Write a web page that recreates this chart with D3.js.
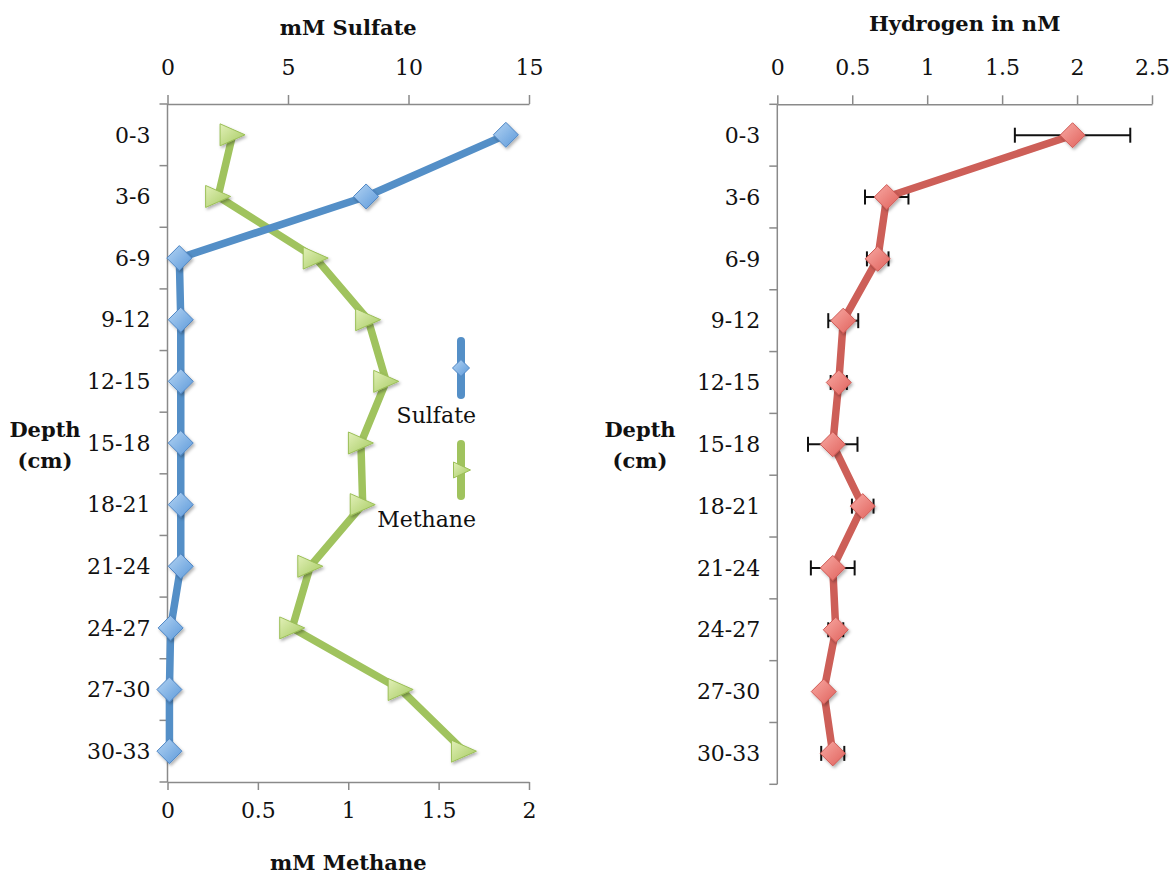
<!DOCTYPE html>
<html>
<head>
<meta charset="utf-8">
<script src="https://cdn.jsdelivr.net/npm/d3@7"></script>
<style>
  body { margin: 0; background: #fff; }
  svg { display: block; font-family: 'DejaVu Serif', serif; }
  .axis path, .axis line { stroke: #8a8a8a; stroke-width: 1.5; }
  .axis text { font-family: 'DejaVu Serif', serif; font-size: 22px; fill: #111; }
  .title { font-weight: bold; font-size: 21px; fill: #111; }
  .legend-text { font-size: 22px; fill: #111; }
</style>
</head>
<body>
<div id="chart"></div>
<script>
'use strict'

const WIDTH = 1172
const HEIGHT = 875

// depth intervals (cm)
const depths = ['0-3', '3-6', '6-9', '9-12', '12-15', '15-18', '18-21', '21-24', '24-27', '27-30', '30-33']
// mM sulfate
const sulfate = [14.04, 8.24, 0.49, 0.55, 0.55, 0.55, 0.55, 0.55, 0.13, 0.08, 0.08]
// mM methane
const methane = [0.36, 0.28, 0.82, 1.11, 1.21, 1.07, 1.08, 0.79, 0.69, 1.29, 1.64]
// nM hydrogen and its error
const hydrogen = [1.97, 0.73, 0.67, 0.44, 0.41, 0.37, 0.57, 0.37, 0.39, 0.31, 0.37]
const hydrogenErr = [0.385, 0.145, 0.072, 0.10, 0.054, 0.165, 0.072, 0.146, 0.05, 0.02, 0.077]

const sulfateTicks = [0, 5, 10, 15]
const methaneTicks = [0, 0.5, 1, 1.5, 2]
const hydrogenTicks = [0, 0.5, 1, 1.5, 2, 2.5]

const colors = {
  sulfate: '#548fc7',
  methane: '#a0c35e',
  hydrogen: '#cd5f58'
}

const svg = d3.select('#chart')
  .append('svg')
  .attr('width', WIDTH)
  .attr('height', HEIGHT)

const defs = svg.append('defs')

function addGradient (id, light, dark) {
  const g = defs.append('linearGradient')
    .attr('id', id)
    .attr('x1', '0%').attr('y1', '0%')
    .attr('x2', '100%').attr('y2', '100%')
  g.append('stop').attr('offset', '0%').attr('stop-color', light)
  g.append('stop').attr('offset', '100%').attr('stop-color', dark)
}
addGradient('grad-blue', '#b4d4f3', '#5c99da')
addGradient('grad-green', '#e2f0b8', '#a5ca60')
addGradient('grad-red', '#f8aaa4', '#e0615b')

defs.append('filter')
  .attr('id', 'shadow')
  .attr('x', '-50%').attr('y', '-50%')
  .attr('width', '200%').attr('height', '200%')
  .append('feDropShadow')
  .attr('dx', 1.5).attr('dy', 2)
  .attr('stdDeviation', 1.5)
  .attr('flood-color', '#000')
  .attr('flood-opacity', 0.3)

function diamond (r) {
  return `M0,${-r}L${r},0L0,${r}L${-r},0Z`
}

function triangle (w, h) {
  return `M${-w / 2},${-h / 2}L${w / 2},0L${-w / 2},${h / 2}Z`
}

// draws the category axis with ticks on the band edges and labels in the middle
function depthAxis (g, y, x0) {
  const edges = depths.map((d) => y(d)).concat([y.range()[1]])
  const axis = g.append('g').attr('class', 'axis')
  axis.append('line')
    .attr('x1', x0).attr('x2', x0)
    .attr('y1', y.range()[0]).attr('y2', y.range()[1])
  axis.selectAll('.edge')
    .data(edges)
    .enter()
    .append('line')
    .attr('class', 'edge')
    .attr('x1', x0 - 8).attr('x2', x0)
    .attr('y1', (v) => v).attr('y2', (v) => v)
  axis.selectAll('text')
    .data(depths)
    .enter()
    .append('text')
    .attr('x', x0 - 17)
    .attr('y', (d) => y(d) + y.bandwidth() / 2)
    .attr('dy', '0.35em')
    .attr('text-anchor', 'end')
    .text((d) => d)
}

function depthTitle (x) {
  const t = svg.append('text')
    .attr('class', 'title')
    .attr('text-anchor', 'middle')
  t.append('tspan').attr('x', x).attr('y', 437).text('Depth')
  t.append('tspan').attr('x', x).attr('y', 468).text('(cm)')
}

// ---------- left panel: sulfate and methane ----------
const yLeft = d3.scaleBand().domain(depths).range([104, 782])
const xSulfate = d3.scaleLinear().domain([0, 15]).range([167.5, 529])
const xMethane = d3.scaleLinear().domain([0, 2]).range([167.5, 529])
const cyLeft = (d) => yLeft(d) + yLeft.bandwidth() / 2

svg.append('g')
  .attr('class', 'axis')
  .attr('transform', 'translate(0,104)')
  .call(d3.axisTop(xSulfate).tickValues(sulfateTicks).tickSize(9).tickSizeOuter(0).tickPadding(20))

svg.append('g')
  .attr('class', 'axis')
  .attr('transform', 'translate(0,782)')
  .call(d3.axisBottom(xMethane).tickValues(methaneTicks).tickSize(8).tickSizeOuter(0).tickPadding(12)
    .tickFormat(d3.format('')))

depthAxis(svg, yLeft, 167.5)
depthTitle(45)

svg.append('text')
  .attr('class', 'title')
  .attr('x', (xSulfate.range()[0] + xSulfate.range()[1]) / 2)
  .attr('y', 35)
  .attr('text-anchor', 'middle')
  .text('mM Sulfate')

svg.append('text')
  .attr('class', 'title')
  .attr('x', (xMethane.range()[0] + xMethane.range()[1]) / 2)
  .attr('y', 870)
  .attr('text-anchor', 'middle')
  .text('mM Methane')

const line = d3.line().curve(d3.curveLinear)

const sulfatePts = depths.map((d, i) => [xSulfate(sulfate[i]), cyLeft(d)])
const methanePts = depths.map((d, i) => [xMethane(methane[i]), cyLeft(d)])

svg.append('path')
  .attr('d', line(methanePts))
  .attr('fill', 'none')
  .attr('stroke', colors.methane)
  .attr('stroke-width', 7.5)
  .attr('stroke-linejoin', 'round')

svg.append('path')
  .attr('d', line(sulfatePts))
  .attr('fill', 'none')
  .attr('stroke', colors.sulfate)
  .attr('stroke-width', 7.5)
  .attr('stroke-linejoin', 'round')

svg.append('g')
  .selectAll('path')
  .data(methanePts)
  .enter()
  .append('path')
  .attr('d', triangle(25, 22))
  .attr('transform', (p) => `translate(${p[0]},${p[1]})`)
  .attr('fill', 'url(#grad-green)')
  .attr('stroke', '#9bbf57')
  .attr('stroke-width', 1)
  .attr('filter', 'url(#shadow)')

svg.append('g')
  .selectAll('path')
  .data(sulfatePts)
  .enter()
  .append('path')
  .attr('d', diamond(12.5))
  .attr('transform', (p) => `translate(${p[0]},${p[1]})`)
  .attr('fill', 'url(#grad-blue)')
  .attr('stroke', '#4f86c4')
  .attr('stroke-width', 1)
  .attr('filter', 'url(#shadow)')

// legend
const legend = svg.append('g').attr('transform', 'translate(461,0)')
legend.append('line')
  .attr('x1', 0).attr('x2', 0).attr('y1', 341).attr('y2', 395)
  .attr('stroke', colors.sulfate).attr('stroke-width', 8).attr('stroke-linecap', 'round')
legend.append('path')
  .attr('d', diamond(8.5))
  .attr('transform', 'translate(0,368)')
  .attr('fill', 'url(#grad-blue)').attr('stroke', '#4f86c4')
legend.append('text')
  .attr('class', 'legend-text')
  .attr('x', 15).attr('y', 423)
  .attr('text-anchor', 'end')
  .text('Sulfate')
legend.append('line')
  .attr('x1', 0).attr('x2', 0).attr('y1', 444).attr('y2', 496)
  .attr('stroke', colors.methane).attr('stroke-width', 8).attr('stroke-linecap', 'round')
legend.append('path')
  .attr('d', triangle(17, 16))
  .attr('transform', 'translate(1,470)')
  .attr('fill', 'url(#grad-green)').attr('stroke', '#9bbf57')
legend.append('text')
  .attr('class', 'legend-text')
  .attr('x', 15).attr('y', 527)
  .attr('text-anchor', 'end')
  .text('Methane')

// ---------- right panel: hydrogen ----------
const yRight = d3.scaleBand().domain(depths).range([104.3, 784.3])
const xHydrogen = d3.scaleLinear().domain([0, 2.5]).range([777.3, 1152])
const cyRight = (d) => yRight(d) + yRight.bandwidth() / 2

svg.append('g')
  .attr('class', 'axis')
  .attr('transform', 'translate(0,104.3)')
  .call(d3.axisTop(xHydrogen).tickValues(hydrogenTicks).tickSize(9).tickSizeOuter(0).tickPadding(20)
    .tickFormat(d3.format('')))

depthAxis(svg, yRight, 777.3)
depthTitle(640)

svg.append('text')
  .attr('class', 'title')
  .attr('x', (xHydrogen.range()[0] + xHydrogen.range()[1]) / 2)
  .attr('y', 31)
  .attr('text-anchor', 'middle')
  .text('Hydrogen in nM')

const errors = svg.append('g')
  .attr('stroke', '#111')
  .attr('stroke-width', 2)
depths.forEach((d, i) => {
  const lo = xHydrogen(hydrogen[i] - hydrogenErr[i])
  const hi = xHydrogen(hydrogen[i] + hydrogenErr[i])
  const cy = cyRight(d)
  errors.append('line').attr('x1', lo).attr('x2', hi).attr('y1', cy).attr('y2', cy)
  errors.append('line').attr('x1', lo).attr('x2', lo).attr('y1', cy - 7.5).attr('y2', cy + 7.5)
  errors.append('line').attr('x1', hi).attr('x2', hi).attr('y1', cy - 7.5).attr('y2', cy + 7.5)
})

const hydrogenPts = depths.map((d, i) => [xHydrogen(hydrogen[i]), cyRight(d)])

svg.append('path')
  .attr('d', line(hydrogenPts))
  .attr('fill', 'none')
  .attr('stroke', colors.hydrogen)
  .attr('stroke-width', 7.5)
  .attr('stroke-linejoin', 'round')

svg.append('g')
  .selectAll('path')
  .data(hydrogenPts)
  .enter()
  .append('path')
  .attr('d', diamond(12.5))
  .attr('transform', (p) => `translate(${p[0]},${p[1]})`)
  .attr('fill', 'url(#grad-red)')
  .attr('stroke', '#cf5a55')
  .attr('stroke-width', 1)
  .attr('filter', 'url(#shadow)')
</script>
</body>
</html>
